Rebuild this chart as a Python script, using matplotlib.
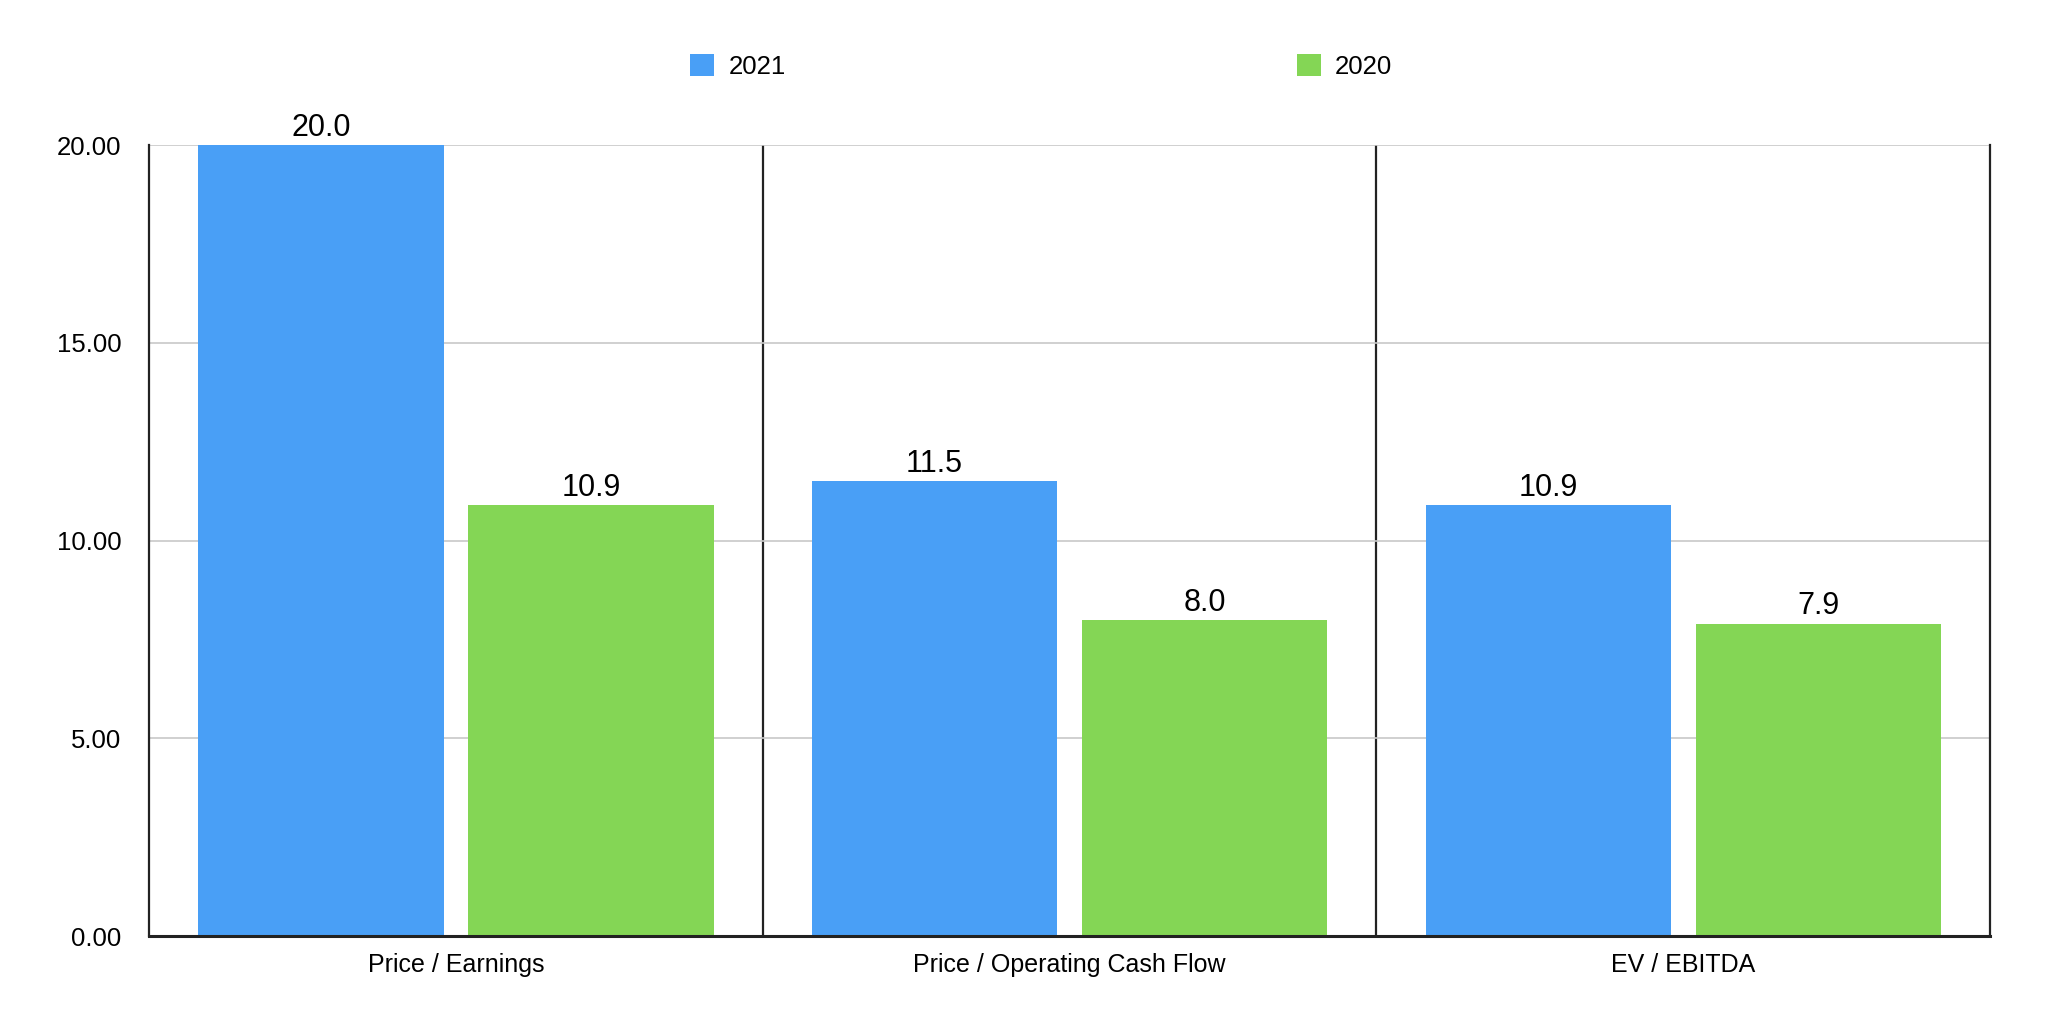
import matplotlib
matplotlib.use("Agg")
import matplotlib.pyplot as plt
import numpy as np

plt.rcParams["font.family"] = ["Liberation Sans", "DejaVu Sans"]

categories = ["Price / Earnings", "Price / Operating Cash Flow", "EV / EBITDA"]
series_names = ["2021", "2020"]
values_2021 = [20.0, 11.5, 10.9]
values_2020 = [10.9, 8.0, 7.9]
yticks = [0, 5, 10, 15, 20]

blue = "#499ff6"
green = "#84d655"

fig = plt.figure(figsize=(20.7, 10.36), dpi=100)
ax = fig.add_axes([0.072, 0.0965, 0.8894, 0.7635])

x = np.arange(len(categories))
w = 0.40
b1 = ax.bar(x - 0.22, values_2021, w, color=blue, label=series_names[0], zorder=2)
b2 = ax.bar(x + 0.22, values_2020, w, color=green, label=series_names[1], zorder=2)

for bars in (b1, b2):
    for r in bars:
        ax.text(r.get_x() + r.get_width() / 2, r.get_height() + 0.23, f"{r.get_height():.1f}",
                ha="center", va="baseline", fontsize=22, zorder=3)

ax.set_xlim(-0.5, len(categories) - 0.5)
ax.set_ylim(0, 20)
ax.set_yticks(yticks)
ax.set_yticklabels([f"{v:.2f}" for v in yticks], fontsize=18.5)
ax.set_xticks(x)
ax.set_xticklabels(categories, fontsize=18)
ax.tick_params(axis="y", length=0, pad=20)
ax.tick_params(axis="x", length=0, pad=12)
ax.yaxis.grid(True, color="#c8c8c8", linewidth=1.2, zorder=0)

# group dividers
for d in np.arange(0.5, len(categories) - 0.5, 1):
    ax.axvline(d, color="#222222", linewidth=1.6, zorder=1)

ax.spines["top"].set_visible(False)
for s in ("left", "right"):
    ax.spines[s].set_color("#222222")
    ax.spines[s].set_linewidth(1.6)
ax.spines["bottom"].set_color("#222222")
ax.spines["bottom"].set_linewidth(2.2)

fig.legend(handles=[b1, b2], labels=series_names, loc="center", bbox_to_anchor=(0.503, 0.936),
           ncol=2, frameon=False, fontsize=18.5, handlelength=0.92, handleheight=0.92,
           columnspacing=19.9, handletextpad=0.56)

fig.savefig("out.png", dpi=100, facecolor="white")
